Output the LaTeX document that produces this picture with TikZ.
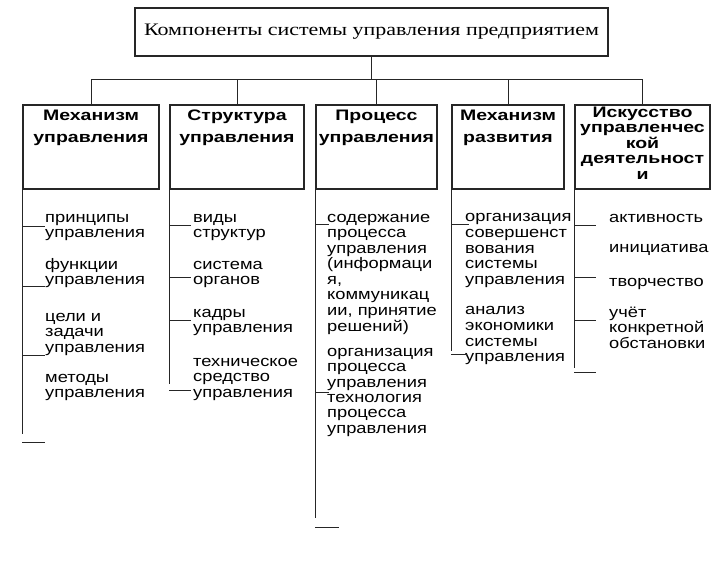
\documentclass[tikz,border=0pt]{standalone}
\usepackage{fontspec}
\usetikzlibrary{positioning}
\setmainfont{Liberation Sans}
\newfontfamily\listfont{Liberation Sans}[FakeStretch=1.2]
\newfontfamily\headfont{Liberation Sans}[FakeStretch=1.28]
\newfontfamily\titlefont{Liberation Serif}[FakeStretch=1.25]
\begin{document}
\begin{tikzpicture}[x=0.03cm, y=-0.03cm,
        box/.style={draw=black!85, line width=1.1pt, inner sep=0pt, minimum height=2.52cm},
        head/.style={anchor=north, align=center, inner sep=0pt,
                font=\headfont\bfseries\fontsize{13}{19}\selectfont},
        item/.style={anchor=base west, align=left, inner sep=0pt,
                font=\listfont\fontsize{13}{13.3}\selectfont},
        line/.style={draw=black!85, line width=0.8pt}
    ]
    \useasboundingbox (0,0) rectangle (724,576);

    % title and the five parts
    \node[box, minimum width=14.19cm, minimum height=1.44cm,
        font=\titlefont\fontsize{15}{18}\selectfont] (title) at (371.5,32)
        {Компоненты системы управления предприятием};
    \node[box, minimum width=4.08cm] (mech) at (91,147) {};
    \node[box, minimum width=4.02cm] (struct) at (237,147) {};
    \node[box, minimum width=3.63cm] (proc) at (376.5,147) {};
    \node[box, minimum width=3.36cm] (dev) at (508,147) {};
    \node[box, minimum width=4.05cm] (art) at (642.5,147) {};

    \node[head, below=0.165cm of mech.north] (mechtxt) {Механизм\\управления};
    \node[head, below=0.165cm of struct.north] (structtxt) {Структура\\управления};
    \node[head, below=0.165cm of proc.north] (proctxt) {Процесс\\управления};
    \node[head, below=0.165cm of dev.north] (devtxt) {Механизм\\развития};
    \node[head, below=0.06cm of art.north, font=\headfont\bfseries\fontsize{13}{13.3}\selectfont]
        (arttxt) {Искусство\\управленчес\\кой\\деятельност\\и};

    \coordinate (bus) at (0,79);
    \draw[line] (title.south) -- (title.south |- bus);
    \draw[line] (mech.north |- bus) -- (art.north |- bus);
    \draw[line] (mech.north |- bus) -- (mech.north);
    \draw[line] (struct.north |- bus) -- (struct.north);
    \draw[line] (proc.north |- bus) -- (proc.north);
    \draw[line] (dev.north |- bus) -- (dev.north);
    \draw[line] (art.north |- bus) -- (art.north);

    % mechanism of management (nodes sit on their last baseline)
    \node[item] (mech1) at (45,237.6) {принципы\\управления};
    \node[item] (mech2) at (45,284.6) {функции\\управления};
    \node[item] (mech3) at (45,352.2) {цели и\\задачи\\управления};
    \node[item] (mech4) at (45,397.6) {методы\\управления};
    \draw[line] (mech.south west) -- ++(0,244);
    \draw[line] (mech.south west |- 0,226) -- ++(23,0);
    \draw[line] (mech.south west |- 0,286) -- ++(23,0);
    \draw[line] (mech.south west |- 0,355) -- ++(23,0);
    \draw[line] (mech.south west |- 0,442) -- ++(23,0);

    % structure
    \node[item] (struct1) at (193,237.6) {виды\\структур};
    \node[item] (struct2) at (193,284.6) {система\\органов};
    \node[item] (struct3) at (193,332.6) {кадры\\управления};
    \node[item] (struct4) at (193,397.2) {техническое\\средство\\управления};
    \draw[line] (struct.south west) -- ++(0,194);
    \draw[line] (struct.south west |- 0,225) -- ++(22,0);
    \draw[line] (struct.south west |- 0,277) -- ++(22,0);
    \draw[line] (struct.south west |- 0,320) -- ++(22,0);
    \draw[line] (struct.south west |- 0,390) -- ++(22,0);

    % process
    \node[item] (proc1) at (327,331.1)
        {содержание\\процесса\\управления\\(информаци\\я,\\коммуникац\\ии, принятие\\решений)};
    \node[item] (proc2) at (327,387.2) {организация\\процесса\\управления};
    \node[item] (proc3) at (327,433.2) {технология\\процесса\\управления};
    \draw[line] (proc.south west) -- ++(0,328);
    \draw[line] (proc.south west |- 0,224) -- ++(14,0);
    \draw[line] (proc.south west |- 0,392) -- ++(14,0);
    \draw[line] (proc.south west |- 0,527) -- ++(24,0);

    % development
    \node[item] (dev1) at (465,284.3) {организация\\совершенст\\вования\\системы\\управления};
    \node[item] (dev2) at (465,361.7) {анализ\\экономики\\системы\\управления};
    \draw[line] (dev.south west) -- ++(0,161);
    \draw[line] (dev.south west |- 0,224) -- ++(18,0);
    \draw[line] (dev.south west |- 0,354) -- ++(16,0);

    % art of management
    \node[item] (art1) at (609,222) {активность};
    \node[item] (art2) at (609,252) {инициатива};
    \node[item] (art3) at (609,286) {творчество};
    \node[item] (art4) at (609,348.2) {учёт\\конкретной\\обстановки};
    \draw[line] (art.south west) -- ++(0,178);
    \draw[line] (art.south west |- 0,225) -- ++(22,0);
    \draw[line] (art.south west |- 0,277) -- ++(22,0);
    \draw[line] (art.south west |- 0,320) -- ++(22,0);
    \draw[line] (art.south west |- 0,372) -- ++(22,0);
\end{tikzpicture}
\end{document}
